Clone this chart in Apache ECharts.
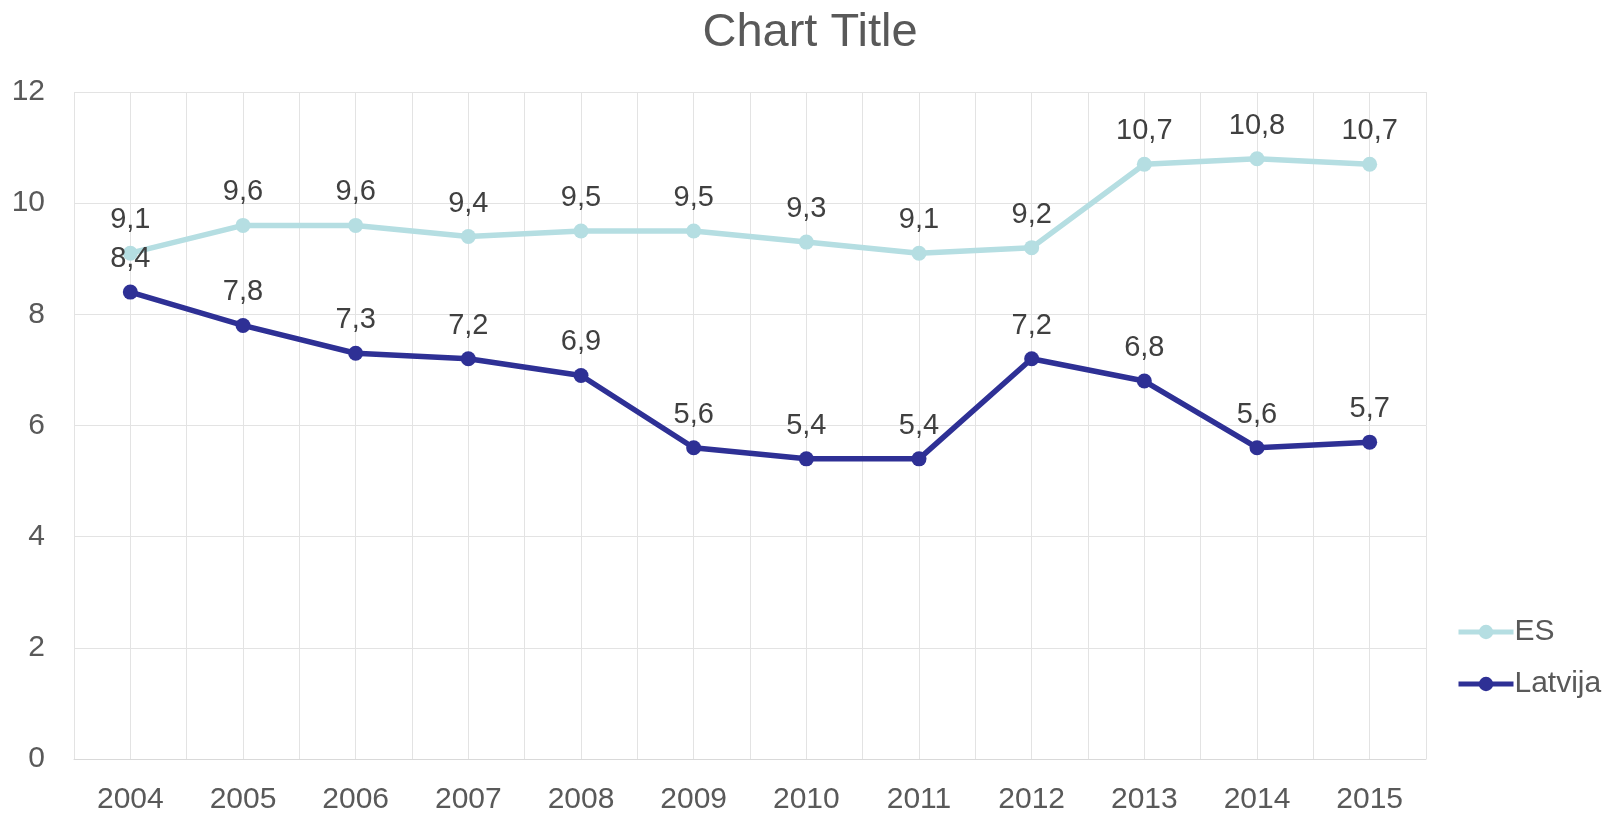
<!DOCTYPE html>
<html>
<head>
<meta charset="utf-8">
<script src="https://cdn.jsdelivr.net/npm/echarts@6/dist/echarts.min.js"></script>
<style>
  html, body { margin: 0; padding: 0; background: #fff; }
  #chart { width: 1620px; height: 815px; }
</style>
</head>
<body>
<div id="chart"></div>
<script>
// dati
const years = ["2004", "2005", "2006", "2007", "2008", "2009", "2010", "2011", "2012", "2013", "2014", "2015"];
const esValues = [9.1, 9.6, 9.6, 9.4, 9.5, 9.5, 9.3, 9.1, 9.2, 10.7, 10.8, 10.7];
const latvijaValues = [8.4, 7.8, 7.3, 7.2, 6.9, 5.6, 5.4, 5.4, 7.2, 6.8, 5.6, 5.7];

const textColor = "#595959";
const fontFamily = "'Liberation Sans', Arial, sans-serif";
const gridColor = "#E3E3E3";

// half-step vertical grid (Excel draws lines at centers and boundaries)
const halfSteps = [];
years.forEach(() => { halfSteps.push(""); halfSteps.push(""); });

const chart = echarts.init(document.getElementById("chart"));

function commaLabel(p) {
  return String(p.value).replace(".", ",");
}

chart.setOption({
  animation: false,
  textStyle: { fontFamily: fontFamily },
  title: {
    text: "Chart Title",
    left: "center",
    top: 5,
    textStyle: { color: textColor, fontSize: 47, fontWeight: "normal", fontFamily: fontFamily }
  },
  legend: {
    orient: "vertical",
    left: 1451,
    top: 607,
    itemWidth: 55,
    itemHeight: 18,
    itemGap: 12,
    lineStyle: { width: 5 },
    textStyle: { color: textColor, fontSize: 30, lineHeight: 40, padding: [0, 0, 0, -4] },
    data: ["ES", "Latvija"]
  },
  grid: { left: 74, right: 194, top: 92, bottom: 54 },
  xAxis: [
    {
      type: "category",
      data: years,
      boundaryGap: true,
      axisLine: { show: true, lineStyle: { color: "#D9D9D9", width: 1 } },
      axisTick: { show: false },
      splitLine: { show: false },
      axisLabel: { color: textColor, fontSize: 30, margin: 26 }
    },
    {
      type: "category",
      data: halfSteps,
      boundaryGap: true,
      position: "bottom",
      axisLine: { show: false },
      axisTick: { show: false },
      axisLabel: { show: false },
      splitLine: { show: true, interval: 0, lineStyle: { color: gridColor, width: 1 } }
    }
  ],
  yAxis: {
    type: "value",
    min: 0,
    max: 12,
    interval: 2,
    axisLine: { show: false },
    axisTick: { show: false },
    axisLabel: { color: textColor, fontSize: 30, margin: 29 },
    splitLine: { lineStyle: { color: gridColor, width: 1 } }
  },
  series: [
    {
      name: "ES",
      type: "line",
      data: esValues,
      symbol: "circle",
      symbolSize: 15,
      itemStyle: { color: "#B5DEE2" },
      lineStyle: { color: "#B5DEE2", width: 5.5 },
      label: {
        show: true,
        position: "top",
        distance: 11,
        color: "#404040",
        fontSize: 29,
        formatter: commaLabel
      }
    },
    {
      name: "Latvija",
      type: "line",
      data: latvijaValues,
      symbol: "circle",
      symbolSize: 15,
      itemStyle: { color: "#2E3095" },
      lineStyle: { color: "#2E3095", width: 5.5 },
      label: {
        show: true,
        position: "top",
        distance: 11,
        color: "#404040",
        fontSize: 29,
        formatter: commaLabel
      }
    }
  ]
});
</script>
</body>
</html>
